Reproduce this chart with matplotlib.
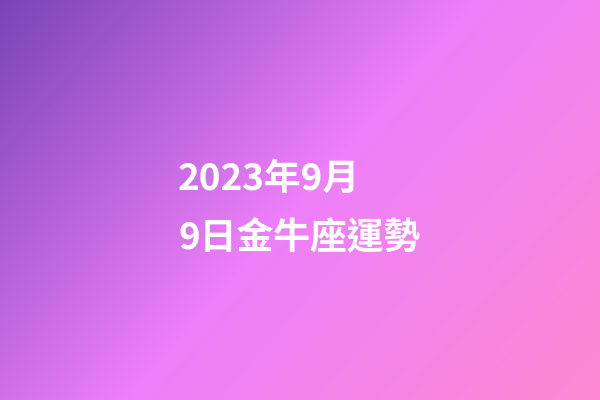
import matplotlib
matplotlib.use("Agg")
import matplotlib.pyplot as plt
import numpy as np
from matplotlib.colors import LinearSegmentedColormap

# gradient stops (position along the diagonal, colour)
stop_pos = [0.0, 0.5, 1.0]
stop_colors = ["#7a44b8", "#ee80fa", "#fd8ad2"]

title_lines = ["2023年9月", "9日金牛座運勢"]

W, H = 600, 400

fig = plt.figure(figsize=(W / 100, H / 100), dpi=100)
ax = fig.add_axes([0, 0, 1, 1])
ax.set_axis_off()

cmap = LinearSegmentedColormap.from_list("bg", list(zip(stop_pos, stop_colors)))
xx, yy = np.meshgrid(np.arange(W), np.arange(H))
t = (xx * 400 + yy * 350) / (W * 400 + H * 350)
ax.imshow(t, cmap=cmap, vmin=0, vmax=1, aspect="auto", interpolation="bilinear")

fonts = ["Noto Sans CJK TC", "DejaVu Sans"]
y_base = [1 - 190 / H, 1 - 248 / H]
for line, yb in zip(title_lines, y_base):
    fig.text(178 / W, yb, line, color="white", fontsize=26.5, fontweight="bold",
             family=fonts, ha="left", va="baseline")

fig.savefig("out.png", dpi=100)
